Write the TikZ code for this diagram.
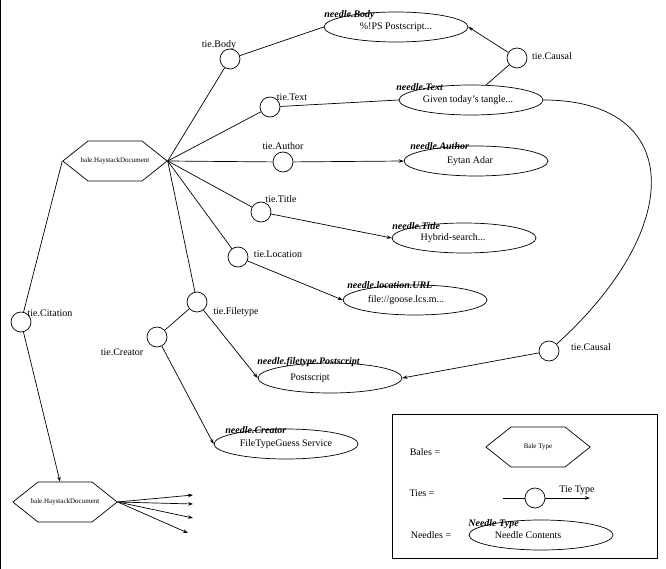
\documentclass[tikz,border=0pt]{standalone}
\usepackage{fontspec}
\setmainfont{Liberation Serif}
\usepackage{tikz}
\usetikzlibrary{arrows.meta,positioning,shapes.geometric,shapes.symbols}

\newcommand{\balename}[1]{\makebox[54pt][c]{#1}}

\tikzset{
  tie/.style={draw,circle,minimum size=20pt,inner sep=0pt},
  needle/.style={draw,ellipse,minimum width=144pt,minimum height=30pt,inner sep=0pt,font=\fontsize{10}{12}\selectfont},
  bale/.style={draw,signal,signal to=east and west,signal pointer angle=77,minimum height=40pt,inner sep=0pt,font=\fontsize{7}{9}\selectfont},
  tietext/.style={font=\fontsize{10}{12}\selectfont,inner sep=0pt},
  needletype/.style={font=\fontsize{10}{12}\selectfont\bfseries\itshape,inner sep=0pt,anchor=west},
  arr/.style={-{Stealth[length=5pt,width=3.5pt]}}
}

\begin{document}
\begin{tikzpicture}[x=1pt,y=-1pt,line width=0.7pt]
\useasboundingbox (0,0) rectangle (666,569);
\draw (0.5,0) -- (0.5,569);

% bales
\node[bale] (bale1) at (115,161) {\balename{bale.HaystackDocument}};
\node[bale] (bale2) at (65,502) {\balename{bale.HaystackDocument}};

% ties
\node[tie] (tBody) at (230,59) {};
\node[tie] (tText) at (270,107) {};
\node[tie] (tAuthor) at (283,162) {};
\node[tie] (tTitle) at (261,212) {};
\node[tie] (tLocation) at (238,257) {};
\node[tie] (tFiletype) at (197,302) {};
\node[tie] (tCreator) at (157,337) {};
\node[tie] (tCitation) at (21,322) {};
\node[tie] (tCausalA) at (517,58) {};
\node[tie] (tCausalB) at (549,351) {};

\node[tietext] (lBody) at (219,45) {tie.Body};
\node[tietext] (lText) at (292,97) {tie.Text};
\node[tietext] (lAuthor) at (283,146) {tie.Author};
\node[tietext] (lTitle) at (281,199) {tie.Title};
\node[tietext] (lLocation) at (278,254) {tie.Location};
\node[tietext] (lFiletype) at (236,312) {tie.Filetype};
\node[tietext] (lCreator) at (122,352) {tie.Creator};
\node[tietext] (lCitation) at (50,313) {tie.Citation};
\node[tietext] (lCausalA) at (552,56) {tie.Causal};
\node[tietext] (lCausalB) at (591,347) {tie.Causal};

% needles
\node[needle] (nBody) at (396,27) {\%!PS Postscript...};
\node[needle] (nText) at (471,100) {Given today's tangle...\hspace*{6pt}};
\node[needle] (nAuthor) at (476,161) {Eytan Adar\hspace*{12pt}};
\node[needle] (nTitle) at (464,238) {Hybrid-search...\hspace*{22pt}};
\node[needle] (nURL) at (415,300) {file://goose.lcs.m...\hspace*{18pt}};
\node[needle] (nPS) at (330,378) {Postscript\hspace*{40pt}};
\node[needle] (nCreator) at (286,444) {FileTypeGuess Service};

\node[needletype] (lnBody) at (324,15) {needle.Body};
\node[needletype] (lnText) at (396,87) {needle.Text};
\node[needletype] (lnAuthor) at (410,146) {needle.Author};
\node[needletype] (lnTitle) at (392,226) {needle.Title};
\node[needletype] (lnURL) at (347,285) {needle.location.URL};
\node[needletype] (lnPS) at (257,362) {needle.filetype.Postscript};
\node[needletype] (lnCreator) at (225,430) {needle.Creator};

% bale to ties
\draw (bale1.east) -- (tBody);
\draw (bale1.east) -- (tText);
\draw (bale1.east) -- (tAuthor);
\draw (bale1.east) -- (tTitle);
\draw (bale1.east) -- (tLocation);
\draw (bale1.east) -- (tFiletype);
\draw (bale1.west) -- (tCitation);
\draw[arr] (tCitation) -- (bale2);

% ties to needles
\draw (tBody) -- (nBody.west);
\draw (tText) -- (nText.west);
\draw[arr] (tAuthor) -- (nAuthor.west);
\draw[arr] (tTitle) -- (nTitle.west);
\draw[arr] (tLocation) -- (nURL.west);
\draw[arr] (tFiletype) -- (nPS.west);
\draw (tFiletype) -- (tCreator);
\draw[arr] (tCreator) -- (nCreator.west);
\draw (nText.45) -- (tCausalA);
\draw[arr] (tCausalA) -- (nBody.east);
\draw (nText.east) .. controls (682,100) and (688,225) .. (tCausalB);
\draw[arr] (tCausalB) -- (nPS.east);

% more ties of the lower bale
\coordinate (f1) at (193,495);
\coordinate (f2) at (193,504);
\coordinate (f3) at (193,518);
\coordinate (f4) at (188,533);
\foreach \f in {f1,f2,f3,f4}
  \draw[arr] (bale2.east) -- (\f);

% legend
\draw (392,414) rectangle (657,558);
\node[tietext] (lBales) at (425,452) {Bales =};
\node[bale] (bale3) at (538,447) {\balename{Bale Type}};
\node[tietext] (lTies) at (422,493) {Ties =};
\node[tie] (tLegend) at (535,498) {};
\coordinate (tIn) at (503,498);
\coordinate (tOut) at (590,498);
\draw (tIn) -- (tLegend);
\draw[arr] (tLegend) -- (tOut);
\node[tietext] (lTieType) at (577,490) {Tie Type};
\node[tietext] (lNeedles) at (431,535) {Needles =};
\node[needle] (nLegend) at (541,535) {Needle Contents\hspace*{26pt}};
\node[needletype] (lNeedleType) at (468,524) {Needle Type};
\end{tikzpicture}
\end{document}
